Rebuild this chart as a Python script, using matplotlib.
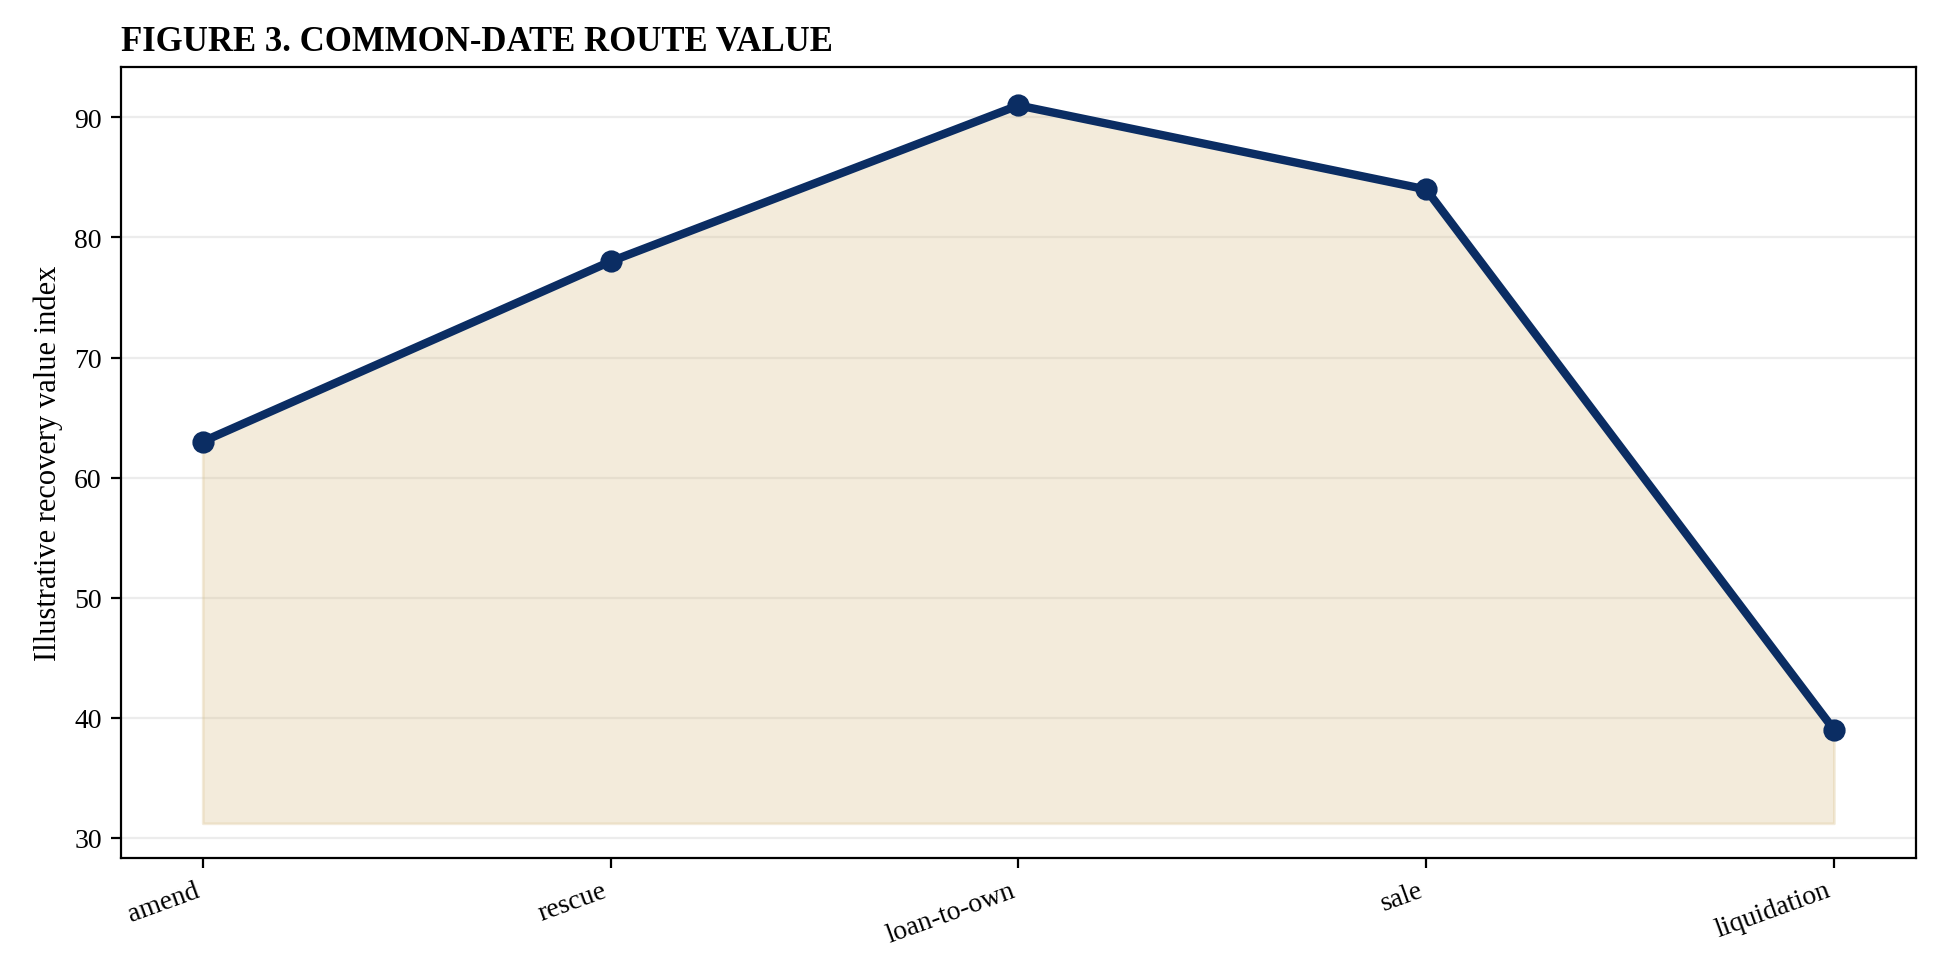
import matplotlib.pyplot as plt

plt.rcParams['font.family'] = ['Liberation Serif', 'DejaVu Serif']

routes = ["amend", "rescue", "loan-to-own", "sale", "liquidation"]
values = [63, 78, 91, 84, 39]
fill_base = 31.2

fig = plt.figure(figsize=(9.695, 4.895), dpi=200)
W, H = 1568, 792
ax = fig.add_axes([98 / W, 1 - 695 / H, (1549 - 98) / W, (695 - 55) / H])

x = list(range(len(routes)))
ax.fill_between(x, values, fill_base, color="#d9c08a", alpha=0.3, linewidth=1)
ax.plot(x, values, color="#0b2d63", linewidth=3, marker="o", markersize=7, zorder=3)

ax.set_xlim(-0.2, 4.2)
ax.set_ylim(28.3, 94.2)
ax.set_xticks(x)
ax.set_xticklabels(routes, rotation=20, ha="right", fontsize=10)
ax.tick_params(axis="y", labelsize=10)
ax.set_yticks([30, 40, 50, 60, 70, 80, 90])
ax.grid(axis="y", color="#ececec", linewidth=0.8)
ax.set_axisbelow(True)
ax.set_ylabel("Illustrative recovery value index", fontsize=11)
ax.set_title("FIGURE 3. COMMON-DATE ROUTE VALUE", loc="left", fontweight="bold", fontsize=12.5)

fig.savefig("out.png", dpi=200)
